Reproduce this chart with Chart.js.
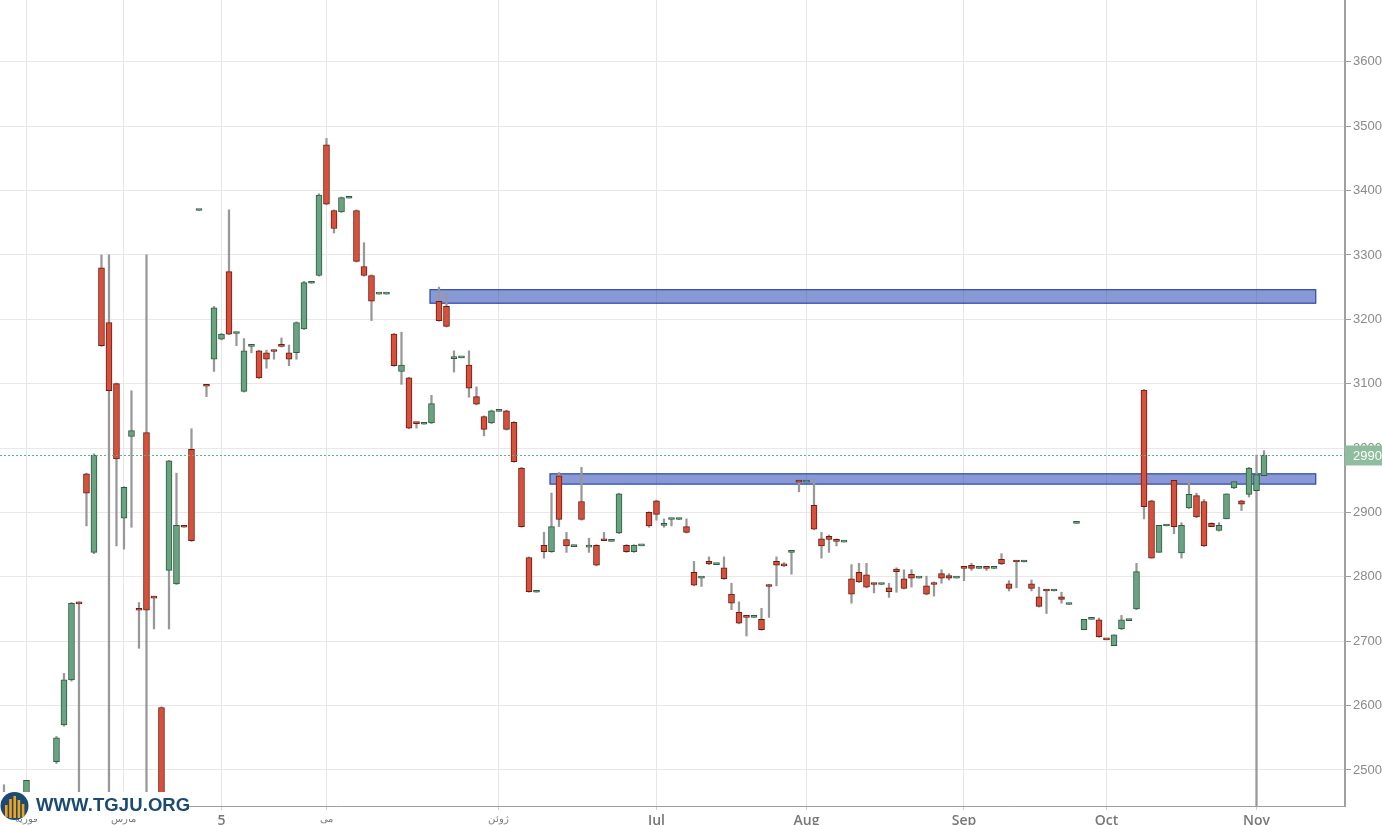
<!DOCTYPE html>
<html>
<head>
<meta charset="utf-8">
<title>Candles</title>
<script src="https://cdn.jsdelivr.net/npm/chart.js@4.4.1/dist/chart.umd.min.js"></script>
<style>
    html, body { margin: 0; padding: 0; background: #fff; overflow: hidden; }
    #wrap { position: relative; width: 1382px; height: 825px; }
    #logo { position: absolute; left: 0; top: 792px; width: 189px; height: 27px; background: #fff; }
    #logo svg { position: absolute; left: 0; top: 0; }
    #logo span { position: absolute; left: 36px; top: 2px; font: bold 18.5px "Liberation Sans", Arial, sans-serif; color: #1b4a72; letter-spacing: 0.1px; }
</style>
</head>
<body>
<div id="wrap">
    <canvas id="priceChart" width="1382" height="825"></canvas>
    <div id="logo">
        <svg width="30" height="30" viewBox="0 0 30 30">
            <circle cx="14.5" cy="14" r="14" fill="#1b4a72"/>
            <rect x="5" y="13" width="2.6" height="12" fill="#f5a21b"/>
            <rect x="9.2" y="7" width="2.6" height="19" fill="#f5a21b"/>
            <rect x="13.4" y="4" width="2.6" height="22" fill="#f5a21b"/>
            <rect x="17.6" y="8" width="2.6" height="18" fill="#f5a21b"/>
            <rect x="21.8" y="12" width="2.6" height="13" fill="#f5a21b"/>
        </svg>
        <span>WWW.TGJU.ORG</span>
    </div>
</div>
<script>
// one slot per trading day, slot 0 is the first candle on the left
const opens = [
    2465, null, null, 2455, null, null, null, 2513, 2570, 2640,
    2760, 2960, 2838, 3280, 3195, 3100, 2891, 3018, 2750, 3024,
    2769, 2597, 2810, 2789, 2879, 2998, 3369, 3098, 3138, 3169,
    3274, 3178, 3088, 3158, 3151, 3148, 3152, 3160, 3148, 3148,
    3185, 3256, 3268, 3471, 3369, 3367, 3388, 3369, 3282, 3268,
    3239, 3239, 3177, 3119, 3109, 3040, 3037, 3039, 3228, 3220,
    3139, 3140, 3129, 3080, 3049, 3039, 3057, 3058, 3040, 2969,
    2830, 2776, 2849, 2839, 2957, 2858, 2847, 2917, 2846, 2849,
    2858, 2855, 2868, 2849, 2839, 2848, 2900, 2918, 2880, 2889,
    2889, 2878, 2807, 2798, 2824, 2819, 2814, 2773, 2745, 2739,
    2737, 2734, 2787, 2824, 2819, 2838, 2949, 2947, 2911, 2859,
    2863, 2857, 2854, 2797, 2807, 2803, 2790, 2788, 2783, 2812,
    2797, 2804, 2798, 2786, 2790, 2805, 2802, 2798, 2815, 2818,
    2813, 2815, 2813, 2827, 2789, 2825, 2823, 2789, 2769, 2780,
    2778, 2769, 2757, 2883, 2718, 2734, 2733, 2704, 2693, 2719,
    2732, 2750, 3090, 2918, 2838, 2879, 2950, 2837, 2907, 2926,
    2917, 2883, 2872, 2890, 2938, 2918, 2928, 2934, 2957
];
const highs = [
    2477, null, null, 2484, null, null, null, 2552, 2650, 2760,
    2761, 2961, 2991, 3300, 3300, 3101, 2940, 3089, 2760, 3300,
    2770, 2598, 2981, 2961, 2879, 3030, 3370, 3098, 3220, 3178,
    3370, 3180, 3170, 3160, 3152, 3152, 3152, 3171, 3160, 3196,
    3259, 3258, 3395, 3481, 3370, 3390, 3390, 3370, 3319, 3269,
    3241, 3241, 3178, 3180, 3110, 3040, 3039, 3082, 3250, 3240,
    3151, 3142, 3151, 3095, 3050, 3059, 3059, 3059, 3041, 2970,
    2831, 2778, 2869, 2930, 2962, 2869, 2849, 2970, 2860, 2850,
    2869, 2857, 2930, 2850, 2850, 2850, 2901, 2919, 2890, 2891,
    2891, 2890, 2824, 2800, 2831, 2821, 2831, 2790, 2761, 2739,
    2739, 2751, 2788, 2831, 2822, 2840, 2949, 2949, 2951, 2869,
    2865, 2859, 2856, 2819, 2821, 2821, 2790, 2790, 2790, 2814,
    2811, 2811, 2800, 2801, 2792, 2811, 2805, 2800, 2815, 2821,
    2815, 2815, 2815, 2836, 2794, 2825, 2825, 2795, 2784, 2780,
    2780, 2776, 2759, 2885, 2734, 2736, 2736, 2704, 2710, 2740,
    2734, 2821, 3091, 2919, 2880, 2881, 2951, 2884, 2951, 2930,
    2920, 2884, 2884, 2929, 2951, 2919, 2970, 2989, 2996
];
const lows = [
    2450, null, null, 2450, null, null, null, 2510, 2568, 2638,
    2420, 2879, 2836, 3158, 2400, 2848, 2843, 2877, 2689, 2400,
    2719, 2400, 2719, 2788, 2877, 2855, 3369, 3080, 3119, 3168,
    3176, 3159, 3087, 3148, 3108, 3124, 3138, 3157, 3128, 3138,
    3184, 3256, 3267, 3378, 3334, 3366, 3388, 3289, 3267, 3198,
    3239, 3239, 3127, 3099, 3030, 3031, 3037, 3038, 3197, 3188,
    3118, 3140, 3079, 3067, 3019, 3038, 3057, 3028, 2978, 2877,
    2776, 2776, 2829, 2838, 2878, 2838, 2847, 2888, 2838, 2817,
    2856, 2855, 2867, 2838, 2838, 2848, 2877, 2888, 2877, 2879,
    2889, 2868, 2786, 2785, 2819, 2819, 2796, 2749, 2727, 2708,
    2737, 2717, 2737, 2786, 2816, 2804, 2932, 2947, 2873, 2829,
    2838, 2848, 2854, 2759, 2791, 2783, 2775, 2788, 2768, 2776,
    2781, 2784, 2798, 2772, 2770, 2790, 2795, 2798, 2794, 2810,
    2813, 2810, 2813, 2819, 2778, 2783, 2823, 2778, 2753, 2743,
    2778, 2759, 2757, 2883, 2718, 2734, 2706, 2702, 2693, 2718,
    2732, 2749, 2890, 2829, 2838, 2879, 2867, 2829, 2906, 2892,
    2847, 2878, 2871, 2890, 2937, 2903, 2924, 2400, 2956
];
const closes = [
    2460, null, null, 2484, null, null, null, 2550, 2640, 2759,
    2758, 2930, 2989, 3159, 3089, 2983, 2939, 3027, 2748, 2748,
    2767, 2420, 2980, 2880, 2877, 2856, 3370, 3096, 3218, 3177,
    3177, 3180, 3151, 3160, 3109, 3138, 3150, 3158, 3138, 3195,
    3257, 3258, 3393, 3379, 3341, 3389, 3390, 3290, 3268, 3228,
    3241, 3241, 3128, 3129, 3031, 3038, 3039, 3069, 3198, 3189,
    3141, 3142, 3093, 3068, 3029, 3058, 3059, 3029, 2979, 2878,
    2777, 2778, 2839, 2878, 2889, 2848, 2849, 2889, 2848, 2818,
    2856, 2857, 2929, 2839, 2849, 2850, 2879, 2897, 2882, 2891,
    2891, 2869, 2787, 2800, 2820, 2821, 2797, 2759, 2728, 2737,
    2739, 2718, 2785, 2818, 2817, 2840, 2947, 2949, 2874, 2848,
    2858, 2855, 2856, 2773, 2792, 2784, 2788, 2790, 2777, 2808,
    2782, 2798, 2800, 2773, 2788, 2798, 2798, 2800, 2813, 2813,
    2815, 2813, 2815, 2820, 2782, 2823, 2825, 2782, 2754, 2778,
    2780, 2765, 2759, 2885, 2734, 2736, 2707, 2702, 2710, 2733,
    2734, 2808, 2909, 2829, 2880, 2881, 2878, 2880, 2928, 2893,
    2848, 2878, 2880, 2929, 2948, 2913, 2969, 2959, 2989
];

// month ticks (slot index) and their labels
const monthTicks = [3, 16, 29, 43, 66, 87, 107, 128, 147, 167];
const monthLabels = ['فوریه', 'مارس', '5', 'می', 'ژوئن', 'Jul', 'Aug', 'Sep', 'Oct', 'Nov'];
const yTicks = [2500, 2600, 2700, 2800, 2900, 3000, 3100, 3200, 3300, 3400, 3500, 3600];

// support / resistance zones
const zoneStart = [56.8, 72.8];
const zoneEnd = [174.9, 174.9];
const zoneLow = [3225, 2944];
const zoneHigh = [3246, 2960];

const lastPrice = 2990;

const xMin = -0.53, xMax = 178.8;
const yMin = 2444, yMax = 3696;

const UP = '#69a382', UP_LINE = '#2c5c3d';
const DOWN = '#d6503b', DOWN_LINE = '#6e1b10';

let priceChart;

document.addEventListener('DOMContentLoaded', function() {
    const bodies = [];
    const wicks = [];
    const fills = [];
    const lines = [];
    for (let i = 0; i < opens.length; i++) {
        if (opens[i] === null) continue;
        bodies.push({ x: i, y: [opens[i], closes[i]] });
        wicks.push({ x: i, y: [lows[i], highs[i]] });
        const up = closes[i] >= opens[i];
        fills.push(up ? UP : DOWN);
        lines.push(up ? UP_LINE : DOWN_LINE);
    }

    const overlayPlugin = {
        id: 'overlays',
        beforeDatasetsDraw(chart) {
            const { ctx, scales: { x, y } } = chart;
            ctx.save();
            for (let i = 0; i < zoneStart.length; i++) {
                const left = x.getPixelForValue(zoneStart[i]);
                const right = x.getPixelForValue(zoneEnd[i]);
                const top = y.getPixelForValue(zoneHigh[i]);
                const bottom = y.getPixelForValue(zoneLow[i]);
                ctx.fillStyle = 'rgba(40, 70, 180, 0.55)';
                ctx.fillRect(left, top, right - left, bottom - top);
                ctx.strokeStyle = '#2b47ad';
                ctx.lineWidth = 1.2;
                ctx.strokeRect(left, top, right - left, bottom - top);
            }
            ctx.restore();
        },
        afterDraw(chart) {
            const { ctx, chartArea, scales: { y } } = chart;
            const py = Math.round(y.getPixelForValue(lastPrice)) + 0.5;
            ctx.save();
            ctx.strokeStyle = '#58b585';
            ctx.lineWidth = 1;
            ctx.setLineDash([2, 2]);
            ctx.beginPath();
            ctx.moveTo(chartArea.left, py);
            ctx.lineTo(chartArea.right, py);
            ctx.stroke();
            ctx.setLineDash([]);
            ctx.fillStyle = '#8fbe9e';
            ctx.fillRect(chartArea.right, py - 10, 40, 20);
            ctx.fillStyle = '#fff';
            ctx.font = '13px "Liberation Sans", Arial, sans-serif';
            ctx.textBaseline = 'middle';
            ctx.fillText(String(lastPrice), chartArea.right + 8, py + 1);
            ctx.restore();
        }
    };

    const noPad = function(scale) {
        scale.paddingTop = 0;
        scale.paddingBottom = 0;
        scale.paddingLeft = 0;
        scale.paddingRight = 0;
    };

    const ctx = document.getElementById('priceChart').getContext('2d');
    priceChart = new Chart(ctx, {
        type: 'bar',
        data: {
            datasets: [{
                label: 'body',
                data: bodies,
                backgroundColor: fills,
                borderColor: lines,
                borderWidth: 1,
                borderSkipped: false,
                barThickness: 6,
                minBarLength: 2,
                grouped: false,
                order: 1
            }, {
                label: 'wick',
                data: wicks,
                backgroundColor: '#989898',
                borderWidth: 0,
                barThickness: 1.6,
                grouped: false,
                order: 2
            }]
        },
        options: {
            responsive: false,
            animation: false,
            devicePixelRatio: 1,
            layout: { padding: 0 },
            plugins: {
                legend: { display: false },
                tooltip: { enabled: false }
            },
            scales: {
                x: {
                    type: 'linear',
                    min: xMin,
                    max: xMax,
                    offset: false,
                    grid: { offset: false, color: '#e6e6e6', tickLength: 4, tickColor: '#cfcfcf' },
                    border: { color: '#9e9e9e', width: 1 },
                    ticks: {
                        autoSkip: false,
                        maxRotation: 0,
                        padding: 3,
                        color: '#777',
                        font: function(c) {
                            const lbl = monthLabels[c.index] || '';
                            if (/[\u0600-\u06FF]/.test(lbl)) {
                                return { size: 10, family: '"Noto Sans", sans-serif' };
                            }
                            return { size: 14, weight: '600', family: '"Open Sans", sans-serif' };
                        },
                        callback: function(value, index) {
                            return monthLabels[index];
                        }
                    },
                    afterBuildTicks: function(scale) {
                        scale.ticks = monthTicks.map(v => ({ value: v }));
                    },
                    afterFit: function(scale) {
                        scale.height = 19;
                        noPad(scale);
                    }
                },
                y: {
                    position: 'right',
                    min: yMin,
                    max: yMax,
                    grid: { color: '#e8e8e8', tickLength: 6, tickColor: '#9e9e9e' },
                    border: { color: '#a0a0a0', width: 2 },
                    ticks: {
                        padding: 2,
                        color: '#8a8a8a',
                        font: { size: 13, family: '"Liberation Sans", Arial, sans-serif' },
                        callback: function(value) {
                            return String(value);
                        }
                    },
                    afterBuildTicks: function(scale) {
                        scale.ticks = yTicks.map(v => ({ value: v }));
                    },
                    afterFit: function(scale) {
                        scale.width = 37;
                        noPad(scale);
                    }
                }
            }
        },
        plugins: [overlayPlugin]
    });
});
</script>
</body>
</html>
